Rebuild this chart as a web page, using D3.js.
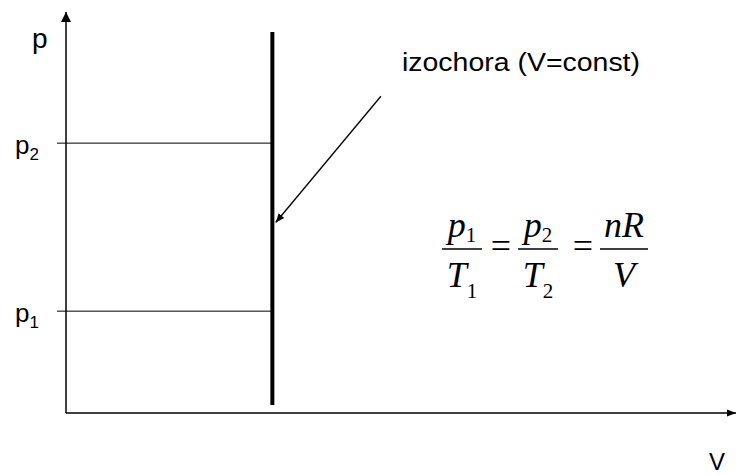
<!DOCTYPE html>
<html>
<head>
<meta charset="utf-8">
<script src="https://cdn.jsdelivr.net/npm/d3@7"></script>
<style>
  body { margin: 0; background: #fff; }
  svg { display: block; }
</style>
</head>
<body>
<svg width="737" height="475"></svg>
<script>
// значения (условные единицы)
const volume = [3.08];             // V = const
const pressures = [2.54, 6.73];    // p1, p2
const pressureLabels = ['1', '2'];
const isoRange = [0.2, 9.5];       // концы изохоры по оси p
const annotation = 'izochora (V=const)';
const arrowFrom = [4.7, 7.9];      // начало стрелки-указателя (V, p)
const arrowTo = [3.13, 4.75];      // конец стрелки

const svg = d3.select('svg');
const attr_area = { width: 737, height: 475, left: 66, bottom: 413, top: 12, right: 736 };

const scX = d3.scaleLinear().domain([0, 10]).range([attr_area.left, attr_area.right]);
const scY = d3.scaleLinear().domain([0, 10]).range([attr_area.bottom, attr_area.top]);

// наконечники стрелок
const defs = svg.append('defs');
defs.append('marker')
  .attr('id', 'head')
  .attr('viewBox', '0 0 10 10')
  .attr('refX', 10).attr('refY', 5)
  .attr('markerWidth', 9).attr('markerHeight', 9)
  .attr('markerUnits', 'userSpaceOnUse')
  .attr('orient', 'auto')
  .append('path').attr('d', 'M0,1 L10,5 L0,9 Z').attr('fill', '#000');
defs.append('marker')
  .attr('id', 'head2')
  .attr('viewBox', '0 0 10 10')
  .attr('refX', 10).attr('refY', 5)
  .attr('markerWidth', 10).attr('markerHeight', 10)
  .attr('markerUnits', 'userSpaceOnUse')
  .attr('orient', 'auto')
  .append('path').attr('d', 'M0,0 L10,5 L0,10 Z').attr('fill', '#000');

// оси
svg.append('line')
  .attr('x1', scX(0)).attr('y1', scY(0))
  .attr('x2', scX(0)).attr('y2', scY(10))
  .attr('stroke', '#000').attr('stroke-width', 1.5)
  .attr('marker-end', 'url(#head2)');
svg.append('line')
  .attr('x1', scX(0)).attr('y1', scY(0))
  .attr('x2', scX(10)).attr('y2', scY(0))
  .attr('stroke', '#000').attr('stroke-width', 1.5)
  .attr('marker-end', 'url(#head)');

svg.append('text')
  .attr('x', 32).attr('y', 48)
  .style('font-family', 'Liberation Sans, Arial, sans-serif')
  .style('font-size', '28px')
  .text('p');
svg.append('text')
  .attr('x', 709).attr('y', 470)
  .style('font-family', 'Liberation Sans, Arial, sans-serif')
  .style('font-size', '24px')
  .text('V');

// линии уровней давления
svg.selectAll('.level')
  .data(pressures)
  .enter()
  .append('line')
  .attr('class', 'level')
  .attr('x1', scX(0) - 9).attr('x2', scX(volume[0]))
  .attr('y1', d => scY(d)).attr('y2', d => scY(d))
  .attr('stroke', '#000').attr('stroke-width', 1);

const lbl = svg.selectAll('.plabel')
  .data(pressures)
  .enter()
  .append('text')
  .attr('class', 'plabel')
  .attr('x', 15)
  .attr('y', d => scY(d) + 11)
  .style('font-family', 'Liberation Sans, Arial, sans-serif')
  .style('font-size', '26px');
lbl.append('tspan').text('p');
lbl.append('tspan')
  .attr('dy', 6)
  .style('font-size', '17px')
  .text((d, i) => pressureLabels[i]);

// изохора
svg.append('line')
  .attr('x1', scX(volume[0])).attr('x2', scX(volume[0]))
  .attr('y1', scY(isoRange[0])).attr('y2', scY(isoRange[1]))
  .attr('stroke', '#000').attr('stroke-width', 4);

// подпись и стрелка
svg.append('text')
  .attr('x', 402).attr('y', 71)
  .attr('textLength', 238)
  .attr('lengthAdjust', 'spacingAndGlyphs')
  .style('font-family', 'Liberation Sans, Arial, sans-serif')
  .style('font-size', '25px')
  .text(annotation);
svg.append('line')
  .attr('x1', scX(arrowFrom[0])).attr('y1', scY(arrowFrom[1]))
  .attr('x2', scX(arrowTo[0])).attr('y2', scY(arrowTo[1]))
  .attr('stroke', '#000').attr('stroke-width', 1.3)
  .attr('marker-end', 'url(#head)');

// формула p1/T1 = p2/T2 = nR/V
const formula = svg.append('g')
  .style('font-family', 'Liberation Serif, Times New Roman, serif')
  .style('font-size', '36px');
const fracs = [
  { cx: 462, w: 40, num: 'p', numSub: '1', den: 'T', denSub: '1' },
  { cx: 538, w: 40, num: 'p', numSub: '2', den: 'T', denSub: '2' },
  { cx: 624, w: 48, num: 'nR', numSub: '', den: 'V', denSub: '' }
];
fracs.forEach(f => {
  formula.append('line')
    .attr('x1', f.cx - f.w / 2).attr('x2', f.cx + f.w / 2)
    .attr('y1', 249).attr('y2', 249)
    .attr('stroke', '#000').attr('stroke-width', 1.5);
  const n = formula.append('text')
    .attr('x', f.cx).attr('y', 237)
    .attr('text-anchor', 'middle');
  n.append('tspan').style('font-style', 'italic').text(f.num);
  if (f.numSub) n.append('tspan').attr('dy', 5).style('font-size', '21px').text(f.numSub);
  const d = formula.append('text')
    .attr('x', f.cx).attr('y', 287)
    .attr('text-anchor', 'middle');
  d.append('tspan').style('font-style', 'italic').text(f.den);
  if (f.denSub) d.append('tspan').attr('dy', 11).style('font-size', '21px').text(f.denSub);
});
[501, 583].forEach(x => {
  formula.append('text')
    .attr('x', x).attr('y', 258)
    .attr('text-anchor', 'middle')
    .text('=');
});
</script>
</body>
</html>
